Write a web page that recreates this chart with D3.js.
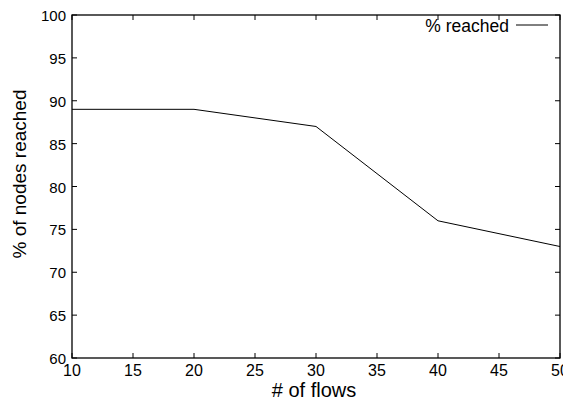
<!DOCTYPE html>
<html>
<head>
<meta charset="utf-8">
<script src="https://cdn.jsdelivr.net/npm/d3@7"></script>
<style>
    body { margin: 0; background: #fff; }
    text { font-family: "Liberation Sans", Arial, sans-serif; fill: #000; }
</style>
</head>
<body>
<svg id="chart" width="563" height="404"></svg>
<script>
// data
const flows = [10, 20, 30, 40, 50];
const reached = [89, 89, 87, 76, 73];
const xTicks = [10, 15, 20, 25, 30, 35, 40, 45, 50];
const yTicks = [60, 65, 70, 75, 80, 85, 90, 95, 100];

const plotLeft = 72, plotRight = 560, plotTop = 15, plotBottom = 358;
const svg = d3.select("#chart");

const x = d3.scaleLinear().domain([10, 50]).range([plotLeft, plotRight]);
const y = d3.scaleLinear().domain([60, 100]).range([plotBottom, plotTop]);

// ticks on all four sides, pointing inward (gnuplot style)
const tickLen = 5;
const g = svg.append("g").attr("stroke", "#000").attr("stroke-width", 1);
xTicks.forEach(function (t) {
    g.append("line").attr("x1", x(t)).attr("x2", x(t)).attr("y1", plotBottom).attr("y2", plotBottom - tickLen);
    g.append("line").attr("x1", x(t)).attr("x2", x(t)).attr("y1", plotTop).attr("y2", plotTop + tickLen);
});
yTicks.forEach(function (t) {
    g.append("line").attr("x1", plotLeft).attr("x2", plotLeft + tickLen).attr("y1", y(t)).attr("y2", y(t));
    g.append("line").attr("x1", plotRight).attr("x2", plotRight - tickLen).attr("y1", y(t)).attr("y2", y(t));
});

// frame
svg.append("rect")
    .attr("x", plotLeft).attr("y", plotTop)
    .attr("width", plotRight - plotLeft).attr("height", plotBottom - plotTop)
    .attr("fill", "none").attr("stroke", "#000").attr("stroke-width", 1.3);

// tick labels
svg.append("g").selectAll("text")
    .data(xTicks)
    .join("text")
    .attr("x", function (d) { return x(d); })
    .attr("y", plotBottom + 18)
    .attr("text-anchor", "middle")
    .attr("font-size", "16px")
    .text(function (d) { return d; });

svg.append("g").selectAll("text")
    .data(yTicks)
    .join("text")
    .attr("x", plotLeft - 6)
    .attr("y", function (d) { return y(d) + 6; })
    .attr("text-anchor", "end")
    .attr("font-size", "15px")
    .text(function (d) { return d; });

// axis titles
svg.append("text")
    .attr("x", (plotLeft + plotRight) / 2 - 2)
    .attr("y", 397)
    .attr("text-anchor", "middle")
    .attr("font-size", "20px")
    .text("# of flows");

svg.append("text")
    .attr("transform", "translate(26, 174) rotate(-90)")
    .attr("text-anchor", "middle")
    .attr("font-size", "19px")
    .text("% of nodes reached");

// data line
const line = d3.line()
    .x(function (d, i) { return x(flows[i]); })
    .y(function (d) { return y(d); });
svg.append("path")
    .datum(reached)
    .attr("d", line)
    .attr("fill", "none")
    .attr("stroke", "#000")
    .attr("stroke-width", 1);

// legend
svg.append("text")
    .attr("x", 509)
    .attr("y", 32)
    .attr("text-anchor", "end")
    .attr("font-size", "17.5px")
    .text("% reached");
svg.append("line")
    .attr("x1", 516).attr("x2", 548)
    .attr("y1", 25).attr("y2", 25)
    .attr("stroke", "#000").attr("stroke-width", 1);
</script>
</body>
</html>
